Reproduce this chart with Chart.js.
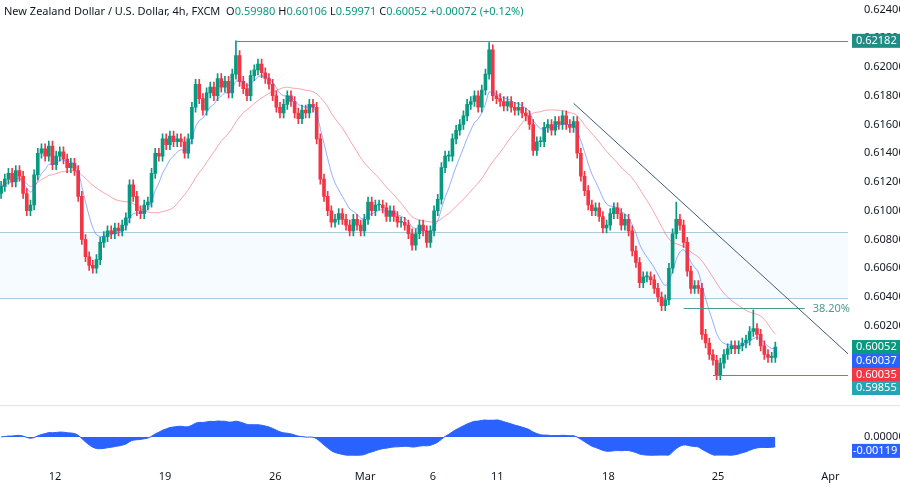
<!DOCTYPE html>
<html>
<head>
<meta charset="utf-8">
<script src="https://cdn.jsdelivr.net/npm/chart.js@4.4.1/dist/chart.umd.min.js"></script>
<style>
  body { margin: 0; background: #fff; font-family: "Noto Sans", sans-serif; overflow: hidden; }
  #wrap { position: relative; width: 900px; height: 489px; overflow: hidden; }
  #main { position: absolute; left: 0; top: -12px; }
  #lower { position: absolute; left: 0; top: 405px; }
  #legend { position: absolute; left: 4px; top: 3px; font-size: 11px; color: #131722; }
  #legend b { font-weight: normal; color: #089981; }
</style>
</head>
<body>
<div id="wrap">
  <canvas id="main" width="900" height="432"></canvas>
  <canvas id="lower" width="900" height="84"></canvas>
  <div id="legend">New Zealand Dollar / U.S. Dollar, 4h, FXCM &nbsp;O<b>0.59980</b> H<b>0.60106</b> L<b>0.59971</b> C<b>0.60052</b> <b>+0.00072 (+0.12%)</b></div>
</div>
<script>
// 4h closes
const closes = [
  0.6117,0.6122,0.6126,0.6120,0.6128,0.6124,0.6112,0.6100,0.6104,0.6125,
  0.6140,0.6143,0.6138,0.6145,0.6132,0.6138,0.6141,0.6136,0.6130,0.6133,
  0.6128,0.6110,0.6080,0.6068,0.6062,0.6060,0.6066,0.6078,0.6082,0.6086,
  0.6084,0.6088,0.6086,0.6090,0.6095,0.6118,0.6110,0.6100,0.6098,0.6104,
  0.6106,0.6126,0.6140,0.6138,0.6150,0.6146,0.6152,0.6148,0.6150,0.6148,
  0.6140,0.6150,0.6172,0.6188,0.6178,0.6170,0.6182,0.6186,0.6180,0.6192,
  0.6186,0.6190,0.6182,0.6195,0.6208,0.6190,0.6185,0.6180,0.6194,0.6198,
  0.6202,0.6196,0.6192,0.6188,0.6180,0.6172,0.6168,0.6174,0.6180,0.6176,
  0.6168,0.6164,0.6170,0.6168,0.6174,0.6172,0.6150,0.6122,0.6110,0.6100,
  0.6092,0.6094,0.6098,0.6094,0.6090,0.6086,0.6094,0.6090,0.6086,0.6094,
  0.6106,0.6100,0.6104,0.6104,0.6102,0.6096,0.6100,0.6096,0.6092,0.6092,
  0.6090,0.6084,0.6076,0.6084,0.6090,0.6086,0.6078,0.6086,0.6100,0.6108,
  0.6130,0.6138,0.6138,0.6150,0.6156,0.6160,0.6166,0.6174,0.6176,0.6180,
  0.6172,0.6184,0.6195,0.6212,0.6180,0.6178,0.6176,0.6173,0.6176,0.6172,
  0.6170,0.6172,0.6168,0.6166,0.6160,0.6142,0.6148,0.6148,0.6158,0.6160,
  0.6156,0.6162,0.6160,0.6166,0.6160,0.6158,0.6162,0.6140,0.6124,0.6114,
  0.6104,0.6100,0.6102,0.6096,0.6088,0.6090,0.6098,0.6102,0.6098,0.6090,
  0.6094,0.6086,0.6072,0.6064,0.6050,0.6054,0.6054,0.6052,0.6046,0.6040,
  0.6034,0.6038,0.6060,0.6084,0.6094,0.6090,0.6078,0.6058,0.6046,0.6048,
  0.6046,0.6014,0.6008,0.6000,0.5996,0.5986,0.5994,0.6000,0.6004,0.6006,
  0.6004,0.6006,0.6008,0.6010,0.6016,0.6018,0.6014,0.6006,0.6000,0.5998,
  0.5998,0.60052
];
const firstOpen = 0.6112;
const spikeIdx = [64, 133, 184, 205];
const spikeHigh = [0.62182, 0.6217, 0.6106, 0.6031];

const tickIdx = [14.7, 44.7, 74.7, 99.2, 117.7, 135.2, 165.5, 195.4, 226];
const tickText = ["12", "19", "26", "Mar", "6", "11", "18", "25", "Apr"];

const zoneTop = 0.6085, zoneBottom = 0.6039;
const topLevel = 0.62182, topFrom = 64;
const lowLevel = 0.59855, lowFrom = 194;
const fibLevel = 0.60324, fibFrom = 186, fibTo = 219;
const trendFrom = [156, 0.61748], trendTo = [230.8, 0.60005];

const priceTicks = [0.624,0.622,0.620,0.618,0.616,0.614,0.612,0.610,0.608,0.606,0.604,0.602];

const GREEN = "#089981", RED = "#f23645";

// candles
const opens = closes.map((c, i) => i === 0 ? firstOpen : closes[i - 1]);
const wick = 0.00035;
const highs = closes.map((c, i) => Math.max(c, opens[i]) + wick);
const lows = closes.map((c, i) => Math.min(c, opens[i]) - wick);
spikeIdx.forEach((k, j) => { highs[k] = spikeHigh[j]; });

function ema(arr, n) {
  const k = 2 / (n + 1); let prev = arr[0];
  return arr.map(v => (prev = v * k + prev * (1 - k)));
}
function sma(arr, n) {
  return arr.map((v, i) => {
    const s = arr.slice(Math.max(0, i - n + 1), i + 1);
    return s.reduce((a, b) => a + b, 0) / s.length;
  });
}
const fast = ema(closes, 8);
const slow = sma(closes, 26);
const e12 = ema(closes, 12), e26 = ema(closes, 26);
const macd = e12.map((v, i) => v - e26[i]);

const colorOf = i => closes[i] >= opens[i] ? GREEN : RED;
const XMIN = -0.3, XMAX = 230.8;
const fixW = s => { s.width = 52; };

const overlay = {
  id: "overlay",
  beforeDatasetsDraw(chart) {
    const { ctx, chartArea: a, scales: { x, y } } = chart;
    ctx.save();
    ctx.fillStyle = "rgba(33,150,243,0.04)";
    ctx.fillRect(a.left, y.getPixelForValue(zoneTop), a.width, y.getPixelForValue(zoneBottom) - y.getPixelForValue(zoneTop));
    ctx.strokeStyle = "#a9c9dc"; ctx.lineWidth = 1;
    [zoneTop, zoneBottom].forEach(v => {
      const py = Math.round(y.getPixelForValue(v)) + 0.5;
      ctx.beginPath(); ctx.moveTo(a.left, py); ctx.lineTo(a.right, py); ctx.stroke();
    });
    ctx.restore();
  },
  afterDatasetsDraw(chart) {
    const { ctx, chartArea: a, scales: { x, y } } = chart;
    ctx.save();
    ctx.lineWidth = 1;
    ctx.strokeStyle = "#3d9c98";
    let py = Math.round(y.getPixelForValue(topLevel)) + 0.5, px = x.getPixelForValue(topFrom);
    ctx.beginPath(); ctx.moveTo(px, y.getPixelForValue(highs[topFrom])); ctx.lineTo(px, py); ctx.lineTo(a.right, py); ctx.stroke();
    ctx.strokeStyle = "#22a6b3";
    py = Math.round(y.getPixelForValue(lowLevel)) + 0.5;
    ctx.beginPath(); ctx.moveTo(x.getPixelForValue(lowFrom), py); ctx.lineTo(a.right, py); ctx.stroke();
    ctx.strokeStyle = "#4f9a8f";
    py = Math.round(y.getPixelForValue(fibLevel)) + 0.5;
    ctx.beginPath(); ctx.moveTo(x.getPixelForValue(fibFrom), py); ctx.lineTo(x.getPixelForValue(fibTo), py); ctx.stroke();
    ctx.fillStyle = "#4f9a8f"; ctx.font = "11px 'Noto Sans'"; ctx.textBaseline = "middle";
    ctx.fillText("38.20%", x.getPixelForValue(fibTo) + 8, py);
    ctx.strokeStyle = "#3f5a7a";
    ctx.beginPath(); ctx.moveTo(x.getPixelForValue(trendFrom[0]), y.getPixelForValue(trendFrom[1]));
    ctx.lineTo(x.getPixelForValue(trendTo[0]), y.getPixelForValue(trendTo[1])); ctx.stroke();
    ctx.restore();
  },
  afterDraw(chart) {
    const { ctx, scales: { y } } = chart;
    const boxes = [
      [topLevel, "0.62182", "#1f8c86", 0],
      [closes[closes.length - 1], "0.60052", GREEN, 0],
      [fast[fast.length - 1], "0.60037", "#2962ff", 14],
      [slow[slow.length - 1], "0.60035", RED, 28],
      [lowLevel, "0.59855", "#22a6b3", 41]
    ];
    ctx.save();
    ctx.font = "11px 'Noto Sans'"; ctx.textBaseline = "middle";
    const base = y.getPixelForValue(closes[closes.length - 1]);
    boxes.forEach(([v, t, c, off], i) => {
      const cy = i === 0 ? y.getPixelForValue(v) : base + off;
      ctx.fillStyle = c; ctx.fillRect(852, cy - 7, 48, 14);
      ctx.fillStyle = "#fff"; ctx.fillText(t, 856, cy);
    });
    ctx.restore();
  }
};

new Chart(document.getElementById("main"), {
  type: "bar",
  data: {
    datasets: [
      { type: "line", data: slow.map((v, i) => ({ x: i, y: v })), borderColor: "rgba(242,54,69,0.45)", borderWidth: 1, pointRadius: 0, tension: 0.3 },
      { type: "line", data: fast.map((v, i) => ({ x: i, y: v })), borderColor: "rgba(41,98,255,0.5)", borderWidth: 1, pointRadius: 0, tension: 0.3 },
      { data: closes.map((c, i) => ({ x: i, y: [lows[i], highs[i]] })), backgroundColor: closes.map((c, i) => colorOf(i)), barThickness: 1, grouped: false },
      { data: closes.map((c, i) => ({ x: i, y: [opens[i], c] })), backgroundColor: closes.map((c, i) => colorOf(i)), barThickness: 3, minBarLength: 1, grouped: false }
    ]
  },
  options: {
    animation: false, responsive: false,
    layout: { padding: 0 },
    plugins: { legend: { display: false }, tooltip: { enabled: false } },
    scales: {
      x: { type: "linear", min: XMIN, max: XMAX, display: false, offset: false },
      y: {
        position: "right", min: 0.59646, max: 0.62448, afterFit: fixW,
        grid: { display: false }, border: { display: false },
        afterBuildTicks: s => { s.ticks = priceTicks.map(v => ({ value: v })); },
        ticks: { color: "#131722", font: { size: 11, family: "Noto Sans" }, padding: 8, callback: v => v.toFixed(5) }
      }
    }
  },
  plugins: [overlay]
});

const lowerBox = {
  id: "lowerBox",
  afterDraw(chart) {
    const { ctx, scales: { y } } = chart;
    ctx.save();
    ctx.strokeStyle = "#e0e3eb";
    ctx.beginPath(); ctx.moveTo(0, 0.5); ctx.lineTo(900, 0.5); ctx.stroke();
    const cy = y.getPixelForValue(0) + 14;
    ctx.fillStyle = "#2962ff"; ctx.fillRect(852, cy - 7, 48, 14);
    ctx.fillStyle = "#fff"; ctx.font = "11px 'Noto Sans'"; ctx.textBaseline = "middle";
    ctx.fillText("-0.00119", 853, cy);
    ctx.restore();
  }
};

new Chart(document.getElementById("lower"), {
  type: "line",
  data: {
    datasets: [{ data: macd.map((v, i) => ({ x: i, y: v })), borderColor: "#2962ff", borderWidth: 1, backgroundColor: "#2962ff", fill: "origin", pointRadius: 0, tension: 0.3 }]
  },
  options: {
    animation: false, responsive: false,
    layout: { padding: { top: 3 } },
    plugins: { legend: { display: false }, tooltip: { enabled: false } },
    scales: {
      x: {
        type: "linear", min: XMIN, max: XMAX,
        grid: { display: false }, border: { display: false },
        afterBuildTicks: s => { s.ticks = tickIdx.map(v => ({ value: v })); },
        ticks: { color: "#131722", font: { size: 11, family: "Noto Sans" }, maxRotation: 0, autoSkip: false, padding: 6,
          callback: v => tickText[tickIdx.indexOf(v)] }
      },
      y: {
        position: "right", min: -0.0023, max: 0.0021, afterFit: fixW,
        grid: { display: false }, border: { display: false },
        afterBuildTicks: s => { s.ticks = [{ value: 0 }]; },
        ticks: { color: "#131722", font: { size: 11, family: "Noto Sans" }, padding: 8, callback: v => v.toFixed(5) }
      }
    }
  },
  plugins: [lowerBox]
});
</script>
</body>
</html>
